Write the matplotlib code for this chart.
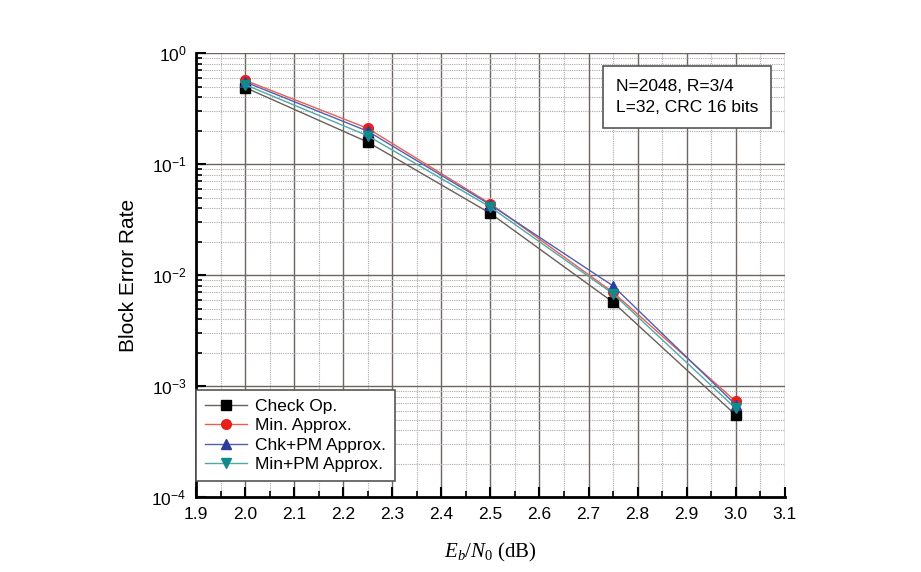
import matplotlib.pyplot as plt
from matplotlib.ticker import FixedLocator, LogLocator, NullFormatter
import numpy as np

plt.rcParams['font.family'] = ['Liberation Sans', 'DejaVu Sans']
plt.rcParams['mathtext.fontset'] = 'custom'
plt.rcParams['mathtext.it'] = 'Liberation Serif:italic'
plt.rcParams['mathtext.rm'] = 'Liberation Serif'

# Eb/N0 points and block error rates
ebn0 = [2.0, 2.25, 2.5, 2.75, 3.0]
bler_check = [0.49, 0.158, 0.036, 0.0057, 0.00055]
bler_min = [0.57, 0.21, 0.044, 0.0070, 0.00073]
bler_chk_pm = [0.55, 0.198, 0.043, 0.0080, 0.00068]
bler_min_pm = [0.52, 0.18, 0.041, 0.0068, 0.00063]

labels = ['Check Op.', 'Min. Approx.', 'Chk+PM Approx.', 'Min+PM Approx.']
x_ticks = [1.9, 2.0, 2.1, 2.2, 2.3, 2.4, 2.5, 2.6, 2.7, 2.8, 2.9, 3.0, 3.1]

fig = plt.figure(figsize=(9.21, 5.72), dpi=100)
ax = fig.add_axes([0.213, 0.131, 0.639, 0.776])

series = [
    (bler_check, 's', 'black', '#6b5f58'),
    (bler_min, 'o', '#e8201c', '#e86050'),
    (bler_chk_pm, '^', '#2c3c9c', '#5060b0'),
    (bler_min_pm, 'v', '#138a8a', '#50a8a8'),
]
for (vals, mk, mc, lc), lab in zip(series, labels):
    ax.plot(ebn0, vals, color=lc, lw=1.0, marker=mk, markersize=7,
            markerfacecolor=mc, markeredgecolor=mc, label=lab)

ax.set_yscale('log')
ax.set_xlim(1.9, 3.1)
ax.set_ylim(1e-4, 1)
ax.xaxis.set_major_locator(FixedLocator(x_ticks))
ax.set_xticklabels(['%.1f' % v for v in x_ticks])
ax.xaxis.set_minor_locator(FixedLocator(np.arange(1.95, 3.1, 0.1)))
ax.yaxis.set_major_locator(LogLocator(base=10, numticks=10))
ax.yaxis.set_minor_locator(LogLocator(base=10, subs=np.arange(2, 10), numticks=10))
ax.yaxis.set_minor_formatter(NullFormatter())

ax.grid(which='major', color='#6e6560', lw=1.0)
ax.grid(which='minor', color='#aaaaaa', lw=0.8, ls=(0, (1, 1)))
ax.set_axisbelow(True)

for s in ['top', 'right']:
    ax.spines[s].set_visible(False)
for s in ['left', 'bottom']:
    ax.spines[s].set_linewidth(2.0)
ax.tick_params(which='major', direction='in', length=7, width=1.5, labelsize=12.5, pad=7)
ax.tick_params(which='minor', direction='in', length=4, width=1.2)
ax.tick_params(axis='y', which='both', right=False)
ax.tick_params(axis='x', which='both', top=False)

ax.set_ylabel('Block Error Rate', fontsize=15, labelpad=10)
ax.set_xlabel(r'$E_b/N_0$ (dB)', fontsize=15, family=['Liberation Serif', 'DejaVu Serif'], labelpad=14)

ax.text(0.834, 0.901, 'N=2048, R=3/4\nL=32, CRC 16 bits', transform=ax.transAxes,
        ha='center', va='center', multialignment='left', fontsize=12.5, linespacing=1.5,
        bbox=dict(boxstyle='square,pad=0.75', facecolor='white', edgecolor='#555555', lw=1.2))

leg = ax.legend(loc='lower left', bbox_to_anchor=(0.0, 0.036), fontsize=12.5, frameon=True,
                fancybox=False, edgecolor='#555555', framealpha=1, borderaxespad=0.0,
                handlelength=2.4, handletextpad=0.5, labelspacing=0.25, borderpad=0.5)
leg.get_frame().set_linewidth(1.2)

fig.savefig('out.png', dpi=100)
